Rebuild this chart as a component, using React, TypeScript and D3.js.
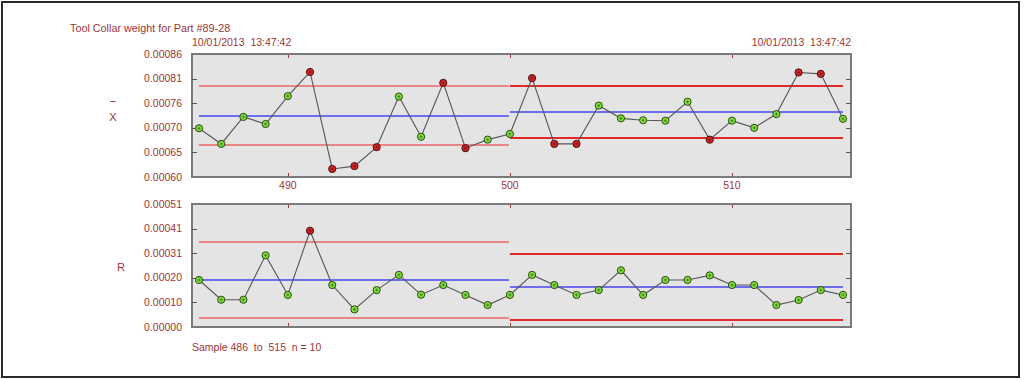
import React from "react";
import * as d3 from "d3";

const title = "Tool Collar weight for Part #89-28";
const dateLabel = "10/01/2013  13:47:42";
const sampleLabel = "Sample 486  to  515  n = 10";

const samples = [486, 487, 488, 489, 490, 491, 492, 493, 494, 495, 496, 497, 498, 499, 500,
  501, 502, 503, 504, 505, 506, 507, 508, 509, 510, 511, 512, 513, 514, 515];

const xbarValues = [0.000703, 0.000670, 0.000727, 0.000712, 0.000771, 0.000822, 0.000617, 0.000623,
  0.000663, 0.000770, 0.000685, 0.000799, 0.000661, 0.000679, 0.000691,
  0.000809, 0.000670, 0.000670, 0.000751, 0.000724, 0.000720, 0.000719, 0.000759, 0.000679,
  0.000719, 0.000704, 0.000733, 0.000821, 0.000818, 0.000723];

const rangeValues = [0.000195, 0.000113, 0.000113, 0.000297, 0.000133, 0.000399, 0.000174, 0.000073,
  0.000153, 0.000216, 0.000134, 0.000174, 0.000133, 0.000091, 0.000133,
  0.000216, 0.000174, 0.000133, 0.000153, 0.000235, 0.000133, 0.000195, 0.000195, 0.000214,
  0.000174, 0.000174, 0.000091, 0.000112, 0.000153, 0.000133];

// control limit segments
const xbarLimits = [
  { from: 486, to: 500, ucl: 0.000793, cl: 0.000730, lcl: 0.000668, heavy: false },
  { from: 500, to: 515, ucl: 0.000792, cl: 0.000737, lcl: 0.000682, heavy: true },
];
const rangeLimits = [
  { from: 486, to: 500, ucl: 0.000351, cl: 0.000194, lcl: 0.000037, heavy: false },
  { from: 500, to: 515, ucl: 0.000304, cl: 0.000166, lcl: 0.000028, heavy: true },
];

const xbarDomain = [0.0006, 0.00086];
const rangeDomain = [0.0, 0.00051];
const xTickValues = [490, 500, 510];

const TEXT = "#9e3434";
const FONT = "'Liberation Sans', Arial, sans-serif";

const PL = 192, PR = 851;

function limitFor(limits: any[], s: number) {
  for (const l of limits) if (s >= l.from && s <= l.to) return l;
  return limits[limits.length - 1];
}

const crisp = (v: number) => Math.round(v) + 0.5;

function Panel({ values, limits, domain, top, bottom, showXLabels }: any) {
  const x = d3.scaleLinear().domain([486, 515]).range([199, 843]);
  const y = d3.scaleLinear().domain(domain).range([bottom, top]);
  const ticks = d3.range(6).map((i) => domain[0] + (i * (domain[1] - domain[0])) / 5);
  const line = d3
    .line<number>()
    .x((_, i) => x(samples[i]))
    .y((d) => y(d));
  return (
    <g>
      <rect x={PL} y={top} width={PR - PL} height={bottom - top} fill="#e4e4e4" stroke="#7a7a7a" strokeWidth={2} />
      {ticks.map((t, i) => (
        <g key={i}>
          <text x={182} y={y(t)} dy="0.35em" textAnchor="end" fill={TEXT} fontSize={10.5} fontFamily={FONT}>
            {t.toFixed(5)}
          </text>
          {i > 0 && i < 5 && (
            <>
              <line x1={PL} x2={PL + 5} y1={crisp(y(t))} y2={crisp(y(t))} stroke="#555" strokeWidth={1} />
              <line x1={PR - 5} x2={PR} y1={crisp(y(t))} y2={crisp(y(t))} stroke="#555" strokeWidth={1} />
            </>
          )}
        </g>
      ))}
      {xTickValues.map((t) => (
        <g key={t}>
          <line x1={crisp(x(t))} x2={crisp(x(t))} y1={top + 1} y2={top + 4} stroke="#a33b3b" strokeWidth={1} />
          <line x1={crisp(x(t))} x2={crisp(x(t))} y1={bottom - 4} y2={bottom - 1} stroke="#a33b3b" strokeWidth={1} />
          {showXLabels && (
            <text x={x(t)} y={bottom + 12} textAnchor="middle" fill={TEXT} fontSize={10.5} fontFamily={FONT}>
              {t}
            </text>
          )}
        </g>
      ))}
      {limits.map((l: any, i: number) => {
        const x1 = x(l.from);
        const x2 = x(l.to) - (l.heavy ? 0 : 1);
        const red = l.heavy ? "#e02a2a" : "#ec6666";
        const w = l.heavy ? 2 : 1.5;
        const yy = (v: number) => Math.round(y(v));
        return (
          <g key={i}>
            <line x1={x1} x2={x2} y1={yy(l.ucl)} y2={yy(l.ucl)} stroke={red} strokeWidth={w} />
            <line x1={x1} x2={x2} y1={yy(l.lcl)} y2={yy(l.lcl)} stroke={red} strokeWidth={w} />
            <line x1={x1} x2={x2} y1={yy(l.cl)} y2={yy(l.cl)} stroke="#4646f2" strokeWidth={1.4} />
          </g>
        );
      })}
      <path d={line(values) || ""} fill="none" stroke="#555" strokeWidth={1.1} />
      {values.map((v: number, i: number) => {
        const l = limitFor(limits, samples[i]);
        const out = v > l.ucl || v < l.lcl;
        const cx = x(samples[i]);
        const cy = y(v);
        return (
          <g key={i}>
            <circle cx={cx} cy={cy} r={3.6} fill={out ? "#d42424" : "#7ee03a"} stroke={out ? "#4a1010" : "#2d4a14"} strokeWidth={1} />
            <path d={`M${cx - 1.5},${cy}H${cx + 1.5}M${cx},${cy - 1.5}V${cy + 1.5}`} stroke={out ? "#7a1515" : "#3a7a18"} strokeWidth={0.9} />
          </g>
        );
      })}
    </g>
  );
}

export default function App() {
  return (
    <svg width={1024} height={380} style={{ position: "absolute", left: 0, top: 0, background: "#fff" }}>
      <rect x={2} y={2} width={1017} height={375} fill="#fff" stroke="#2a2a2a" strokeWidth={2} />
      <text x={70} y={32} fill={TEXT} fontSize={10.8} fontFamily={FONT}>{title}</text>
      <text x={192} y={46} fill={TEXT} fontSize={10.5} fontFamily={FONT} style={{ whiteSpace: "pre" }}>{dateLabel}</text>
      <text x={851} y={46} textAnchor="end" fill={TEXT} fontSize={10.5} fontFamily={FONT} style={{ whiteSpace: "pre" }}>{dateLabel}</text>
      <line x1={110.5} x2={115.5} y1={101.5} y2={101.5} stroke={TEXT} strokeWidth={1} />
      <text x={113} y={117} dy="0.35em" textAnchor="middle" fill={TEXT} fontSize={11} fontFamily={FONT}>X</text>
      <text x={121} y={267} dy="0.35em" textAnchor="middle" fill={TEXT} fontSize={11} fontFamily={FONT}>R</text>
      <Panel values={xbarValues} limits={xbarLimits} domain={xbarDomain} top={54} bottom={177} showXLabels={true} />
      <Panel values={rangeValues} limits={rangeLimits} domain={rangeDomain} top={204} bottom={327} showXLabels={false} />
      <text x={192} y={351} fill={TEXT} fontSize={10.5} fontFamily={FONT} style={{ whiteSpace: "pre" }}>{sampleLabel}</text>
    </svg>
  );
}
